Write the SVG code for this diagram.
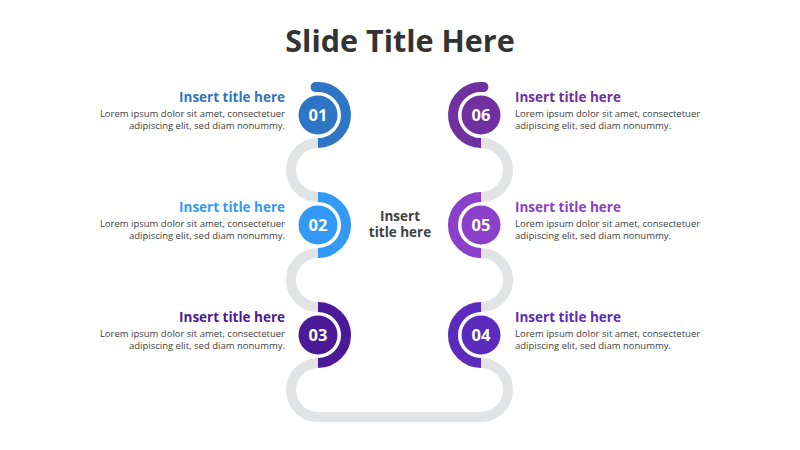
<svg xmlns="http://www.w3.org/2000/svg" width="800" height="450" viewBox="0 0 800 450">
<style>
.t{font-family:"Open Sans","Noto Sans","DejaVu Sans",sans-serif;font-weight:700;font-size:13.5px}
.b{font-family:"Open Sans","Noto Sans","DejaVu Sans",sans-serif;font-size:9.5px;fill:#404040}
.n{font-family:"Open Sans","Noto Sans","DejaVu Sans",sans-serif;font-weight:700;font-size:16.5px;fill:#fff;text-anchor:middle}
.l{text-anchor:end}
.arc{fill:none;stroke-width:10}
.con{fill:none;stroke:#e2e3e5;stroke-width:10}
</style>
<rect width="800" height="450" fill="#fff"/>
<text x="400" y="52" text-anchor="middle" style="font-family:'Open Sans','Noto Sans',sans-serif;font-weight:700;font-size:30.5px" fill="#333">Slide Title Here</text>
<g id="connectors">
<path class="con" d="M318 143A27 27 0 0 0 318 197"/>
<path class="con" d="M318 253A27 27 0 0 0 318 307"/>
<path class="con" d="M318 363A27 27 0 0 0 318 417L481 417A27 27 0 0 0 481 363"/>
<path class="con" d="M481 307A27 27 0 0 0 481 253"/>
<path class="con" d="M481 197A27 27 0 0 0 481 143"/>
</g>
<g id="center">
<text text-anchor="middle" class="t" fill="#404040"><tspan x="400" y="221">Insert</tspan><tspan x="400" y="237">title here</tspan></text>
</g>
<g id="step01">
<path class="arc" stroke="#2f75c5" d="M318 143A28 28 0 1 0 315.6 87.1"/>
<circle cx="315.6" cy="87.1" r="5" fill="#2f75c5"/>
<circle cx="318" cy="115" r="19.5" fill="#2f75c5"/>
<text x="318" y="121" class="n">01</text>
<text x="285" y="102" class="t l" fill="#2f75c5">Insert title here</text>
<text x="285" y="116.5" class="b l">Lorem ipsum dolor sit amet, consectetuer</text>
<text x="285" y="128.5" class="b l">adipiscing elit, sed diam nonummy.</text>
</g>
<g id="step02">
<path class="arc" stroke="#3399f5" d="M318 197A28 28 0 0 1 318 253"/>
<circle cx="318" cy="225" r="19.5" fill="#3399f5"/>
<text x="318" y="231" class="n">02</text>
<text x="285" y="212" class="t l" fill="#3399f5">Insert title here</text>
<text x="285" y="226.5" class="b l">Lorem ipsum dolor sit amet, consectetuer</text>
<text x="285" y="238.5" class="b l">adipiscing elit, sed diam nonummy.</text>
</g>
<g id="step03">
<path class="arc" stroke="#4b1a96" d="M318 307A28 28 0 0 1 318 363"/>
<circle cx="318" cy="335" r="19.5" fill="#4b1a96"/>
<text x="318" y="341" class="n">03</text>
<text x="285" y="322" class="t l" fill="#4b1a96">Insert title here</text>
<text x="285" y="336.5" class="b l">Lorem ipsum dolor sit amet, consectetuer</text>
<text x="285" y="348.5" class="b l">adipiscing elit, sed diam nonummy.</text>
</g>
<g id="step04">
<path class="arc" stroke="#5b2bbd" d="M481 363A28 28 0 0 1 481 307"/>
<circle cx="481" cy="335" r="19.5" fill="#5b2bbd"/>
<text x="481" y="341" class="n">04</text>
<text x="515" y="322" class="t" fill="#5b2bbd">Insert title here</text>
<text x="515" y="336.5" class="b">Lorem ipsum dolor sit amet, consectetuer</text>
<text x="515" y="348.5" class="b">adipiscing elit, sed diam nonummy.</text>
</g>
<g id="step05">
<path class="arc" stroke="#8a40c8" d="M481 253A28 28 0 0 1 481 197"/>
<circle cx="481" cy="225" r="19.5" fill="#8a40c8"/>
<text x="481" y="231" class="n">05</text>
<text x="515" y="212" class="t" fill="#8a40c8">Insert title here</text>
<text x="515" y="226.5" class="b">Lorem ipsum dolor sit amet, consectetuer</text>
<text x="515" y="238.5" class="b">adipiscing elit, sed diam nonummy.</text>
</g>
<g id="step06">
<path class="arc" stroke="#7030a0" d="M481 143A28 28 0 1 1 483.4 87.1"/>
<circle cx="483.4" cy="87.1" r="5" fill="#7030a0"/>
<circle cx="481" cy="115" r="19.5" fill="#7030a0"/>
<text x="481" y="121" class="n">06</text>
<text x="515" y="102" class="t" fill="#7030a0">Insert title here</text>
<text x="515" y="116.5" class="b">Lorem ipsum dolor sit amet, consectetuer</text>
<text x="515" y="128.5" class="b">adipiscing elit, sed diam nonummy.</text>
</g>
</svg>
